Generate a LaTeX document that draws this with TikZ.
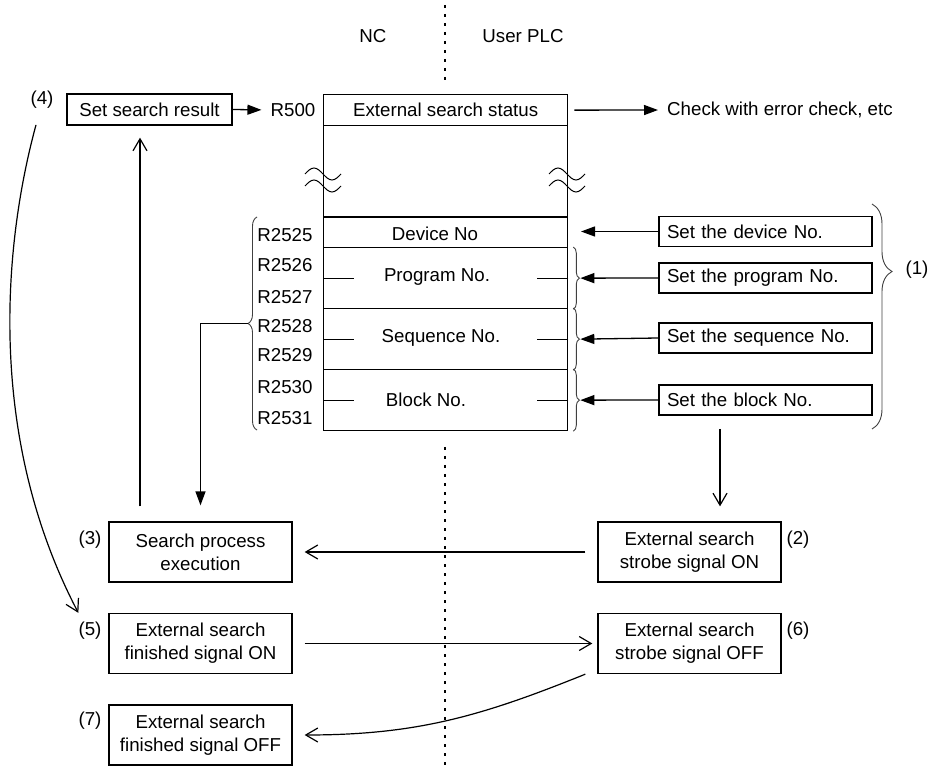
\documentclass[tikz,border=0pt]{standalone}
\usepackage{fontspec}
\setmainfont{Liberation Sans}
\usetikzlibrary{arrows.meta,positioning,calc,decorations.pathreplacing}

\tikzset{
  box/.style={draw, line width=1.3pt, inner sep=0pt, align=center},
  setbox/.style={box, minimum width=213pt, minimum height=30pt, text width=197pt, align=left},
  stepbox/.style={box, minimum width=183pt, minimum height=60pt},
  row/.style={draw, line width=1.3pt, minimum width=244pt, anchor=north west, inner sep=0pt},
  tag/.style={inner sep=0pt},
  solid tip/.style={-{Triangle[length=14pt,width=10pt]}, line width=1.3pt},
  open tip/.style={-{Straight Barb[length=12pt,width=14pt]}, line width=1.2pt},
  brc/.style={decorate, decoration={brace, amplitude=#1}, line width=0.9pt, draw=black!75},
}

\begin{document}
\begin{tikzpicture}[x=1pt, y=-1pt, font=\fontsize{18.7}{23}\selectfont]
  \useasboundingbox (0,0) rectangle (938,767);

  % NC / user PLC split
  \node[tag] (nc) at (373,36) {NC};
  \node[tag] (plc) at (523,36) {User PLC};
  \draw[line width=1.5pt, dash pattern=on 3pt off 6pt] (445,5) -- (445,85);
  \draw[line width=1.5pt, dash pattern=on 3pt off 6pt] (445,447) -- (445,767);

  % register table
  \node[row, minimum height=31pt] (status) at (323,94) {External search status};
  \node[row, minimum height=92pt] (gap) at (323,125) {};
  \node[row, minimum height=31pt] (dev) at (323,216) {};
  \node[row, minimum height=61pt] (prog) at (323,247) {};
  \node[row, minimum height=61pt] (seq) at (323,308) {};
  \node[row, minimum height=61pt] (blk) at (323,369) {};
  \node[tag] (devtxt) at (435,234) {Device No};
  \node[tag] (progtxt) at (437,277) {Program No.};
  \node[tag] (seqtxt) at (441,338) {Sequence No.};
  \node[tag] (blktxt) at (426,400) {Block No.};
  \foreach \r in {prog,seq,blk} {
    \draw[line width=1.1pt] (\r.west) -- ++(31,0);
    \draw[line width=1.1pt] (\r.east) -- ++(-31,0);
  }
  \foreach \x in {323,567}
    \foreach \y in {174,186}
      \draw[line width=1pt] ({\x-18},\y) sin ({\x-9},{\y-6}) cos (\x,\y) sin ({\x+9},{\y+6}) cos ({\x+18},\y);

  \node[tag] (r500) at (293,110) {R500};
  \foreach \n/\y in {2525/235,2526/265,2527/297,2528/326,2529/355,2530/387,2531/418}
    \node[tag] (r\n) at (285,\y) {R\n};

  % braces
  \draw[brc=9pt] (257,430) -- (257,217);
  \coordinate (ltip) at (248,323.5);
  \foreach \r in {prog,seq,blk} {
    \draw[brc=6pt] ([xshift=5pt]\r.north east) -- ([xshift=5pt]\r.south east);
    \coordinate (\r tip) at ([xshift=12pt]\r.east);
  }
  \coordinate (devtip) at (581,231.5);
  \draw[decorate, decoration={brace, amplitude=20pt, aspect=0.3}, line width=0.9pt, draw=black!75] (872,204) -- (872,429);
  \node[tag] (n1) at (917,270) {(1)};

  % PLC side settings
  \node[setbox] (setdev) at (765.5,231.5) {Set the device No.};
  \node[setbox] (setprog) at (765.5,278) {Set the program No.};
  \node[setbox] (setseq) at (765.5,338) {Set the sequence No.};
  \node[setbox] (setblk) at (765.5,400) {Set the block No.};
  \draw[solid tip] (setdev.west) -- (devtip);
  \draw[solid tip] (setprog.west) -- (progtip);
  \draw[solid tip] (setseq.west) -- (seqtip);
  \draw[solid tip] (setblk.west) -- (blktip);

  % top row
  \node[box, minimum width=165pt, minimum height=31pt] (result) at (149.5,109.5) {Set search result};
  \node[tag] (n4) at (42,100) {(4)};
  \node[tag, anchor=west] (check) at (667,110) {Check with error check, etc};
  \draw[solid tip, shorten >=9pt] (result.east) -- (r500.west);
  \draw[solid tip, shorten <=6pt, shorten >=9pt] (status.east) -- (check.west);

  % handshake steps
  \node[stepbox] (search) at (200.5,552) {Search process\\execution};
  \node[stepbox] (strobeon) at (689.5,552) {External search\\strobe signal ON};
  \node[stepbox] (finon) at (200.5,643.5) {External search\\finished signal ON};
  \node[stepbox] (strobeoff) at (689.5,643.5) {External search\\strobe signal OFF};
  \node[stepbox] (finoff) at (200.5,735) {External search\\finished signal OFF};
  \node[tag] (n3) at (90,540) {(3)};
  \node[tag] (n5) at (90,631) {(5)};
  \node[tag] (n7) at (90,721) {(7)};
  \node[tag] (n2) at (798,540) {(2)};
  \node[tag] (n6) at (798,631) {(6)};

  \coordinate (setdone) at (720,429);
  \draw[open tip, shorten >=15pt] (setdone) -- (setdone |- strobeon.north);
  \draw[solid tip, shorten >=16pt] (ltip) -| (search.north);
  \coordinate (up) at ([xshift=-60.5pt,yshift=15pt]search.north);
  \draw[open tip, shorten >=12pt] (up) -- (up |- result.south);
  \draw[open tip, shorten <=12pt, shorten >=12pt] (strobeon.west) -- (search.east);
  \draw[open tip, shorten <=12pt, shorten >=5pt] (finon.east) -- (strobeoff.west);
  \draw[open tip] ([xshift=-12pt]strobeoff.south west) to[out=202, in=0] ([xshift=12pt]finoff.east);
  \draw[open tip] ([shift={(-6,16)}]n4.south) .. controls (2,250) and (-12,440) .. ([xshift=-30pt]finon.north west);
\end{tikzpicture}
\end{document}
